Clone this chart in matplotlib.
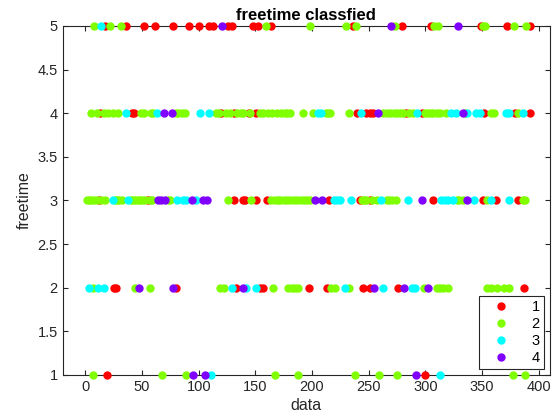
import matplotlib
matplotlib.use("Agg")
import matplotlib.pyplot as plt

plt.rcParams['font.family'] = ['Liberation Sans', 'DejaVu Sans']

# group 1 (red)
g1_x = [17, 36, 52, 61, 77, 91, 100, 109, 113, 126, 129, 148, 152, 164, 236, 279, 305, 349, 372, 392,
        13, 41, 43, 120, 131, 144, 151, 240, 248, 251, 254, 283, 297, 352, 379, 392,
        12, 55, 131, 139, 141, 151, 160, 215, 242, 251, 307, 351, 362, 382,
        25, 27, 80, 133, 154, 157, 197, 213, 245, 251, 276, 387,
        19, 300]
g1_y = [5] * 20 + [4] * 16 + [3] * 14 + [2] * 12 + [1] * 2

# group 2 (green)
g2_x = [8, 22, 31, 159, 198, 230, 239, 273, 308, 311, 351, 353, 378, 389,
        5, 10, 16, 20, 24, 29, 49, 52, 58, 60, 80, 82, 85, 88, 115, 118, 124, 128, 134, 137,
        139, 145, 154, 157, 161, 165, 169, 173, 176, 178, 181, 192, 201, 212, 214, 216, 233,
        263, 266, 269, 272, 275, 278, 280, 286, 289, 300, 302, 305, 307, 310, 313, 318, 335,
        358, 361, 382,
        1, 3, 5, 8, 10, 14, 17, 26, 28, 30, 32, 40, 42, 44, 46, 48, 50, 53, 57, 59, 73, 75,
        126, 146, 164, 167, 170, 172, 175, 178, 181, 184, 187, 190, 193, 196, 198, 244, 246,
        248, 253, 257, 266, 268, 271, 274, 328, 330, 333, 354, 386, 388,
        7, 44, 57, 119, 122, 166, 179, 182, 185, 188, 217, 220, 233, 299, 310, 313, 316, 320,
        354, 358, 363, 369, 374,
        7, 68, 89, 167, 188, 238, 259, 275, 377, 388]
g2_y = [5] * 14 + [4] * 57 + [3] * 52 + [2] * 23 + [1] * 10

# group 3 (cyan)
g3_x = [14,
        36, 63, 101, 109, 205, 208, 243, 293, 323, 327, 337, 345, 348, 371, 374, 386,
        24, 38, 81, 86, 89, 98, 219, 222, 225, 234, 261, 285, 314, 317, 320, 324, 343, 358, 374,
        3, 11, 16, 129, 142, 151, 229, 263, 288, 291,
        111, 313]
g3_y = [5] * 1 + [4] * 16 + [3] * 19 + [2] * 10 + [1] * 2

# group 4 (purple)
g4_x = [121, 270, 329,
        69, 76, 258, 333,
        64, 67, 70, 94, 104, 107, 203, 209, 297, 337,
        47, 77, 139, 255, 281, 302,
        95, 106, 292]
g4_y = [5] * 3 + [4] * 4 + [3] * 10 + [2] * 6 + [1] * 3

groups = ['1', '2', '3', '4']
colors = ['#ff0000', '#80ff00', '#00ffff', '#8000ff']

fig = plt.figure(figsize=(5.57, 4.18), dpi=100)
ax = fig.add_axes([0.1126, 0.1029, 0.8748, 0.8349])

for xs, ys, lab, c in zip([g1_x, g2_x, g3_x, g4_x], [g1_y, g2_y, g3_y, g4_y], groups, colors):
    ax.plot(xs, ys, linestyle='', marker='o', markersize=5, color=c, label=lab,
            clip_on=False, zorder=3)

ax.set_xlim(-20, 410)
ax.set_ylim(1, 5)
ax.set_xticks(range(0, 401, 50))
ax.set_yticks([1, 1.5, 2, 2.5, 3, 3.5, 4, 4.5, 5])
ax.set_yticklabels(['1', '1.5', '2', '2.5', '3', '3.5', '4', '4.5', '5'])
ax.tick_params(direction='in', top=True, right=True, length=3.5, width=0.8,
               labelsize=10.5, colors='#262626', labelcolor='#262626')
for s in ax.spines.values():
    s.set_color('#262626')
    s.set_linewidth(0.8)

ax.set_xlabel('data', fontsize=11.5, color='#262626', labelpad=3)
ax.set_ylabel('freetime', fontsize=11.5, color='#262626', labelpad=4)
ax.set_title('freetime classfied', fontsize=12, fontweight='bold', pad=4)

leg = ax.legend(loc='lower right', fontsize=10.5, frameon=True, fancybox=False,
                edgecolor='#262626', framealpha=1, labelspacing=0.2, borderpad=0.3,
                handlelength=2.4, handletextpad=0.9, borderaxespad=0.4, markerfirst=True)
leg.get_frame().set_linewidth(0.8)
leg.set_zorder(5)

fig.savefig('out.png', dpi=100)
